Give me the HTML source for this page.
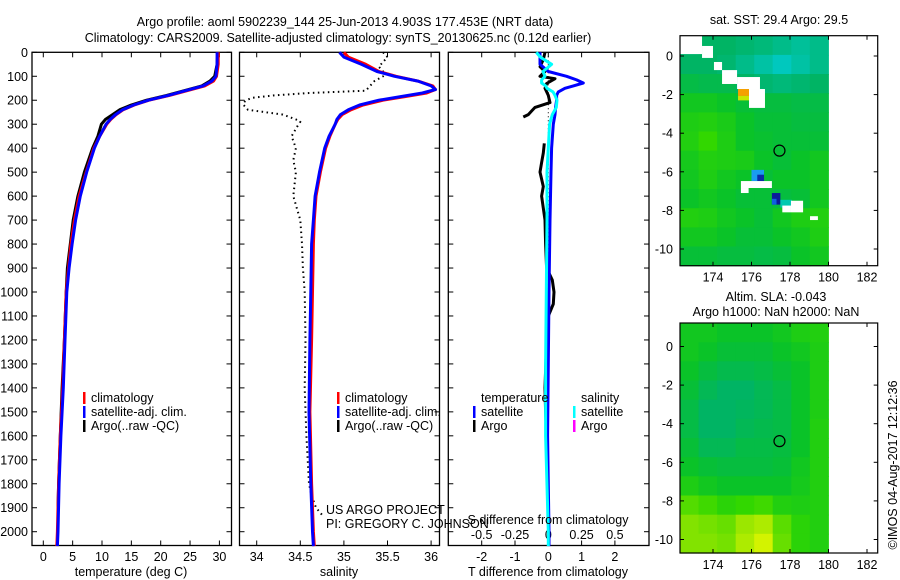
<!DOCTYPE html>
<html><head><meta charset="utf-8">
<style>
html,body{margin:0;padding:0;background:#fff;}
svg{display:block;font-family:"Liberation Sans",sans-serif;}
text{font-size:12.5px;fill:#000;}
</style></head>
<body>
<svg id="fig" width="900" height="580" viewBox="0 0 900 580" xmlns="http://www.w3.org/2000/svg">
<text x="345" y="26" text-anchor="middle">Argo profile: aoml 5902239_144 25-Jun-2013 4.903S 177.453E (NRT data)</text>
<text x="338" y="42" text-anchor="middle">Climatology: CARS2009. Satellite-adjusted climatology: synTS_20130625.nc (0.12d earlier)</text>
<text x="779" y="24" text-anchor="middle">sat. SST: 29.4 Argo: 29.5</text>
<text x="776" y="301" text-anchor="middle">Altim. SLA: -0.043</text>
<text x="776" y="316" text-anchor="middle">Argo h1000: NaN h2000: NaN</text>
<text x="0" y="0" transform="translate(897,465) rotate(-90)" text-anchor="middle">©IMOS 04-Aug-2017 12:12:36</text>
</svg>
<script>
// ---------- data ----------
const depthTicks=[0,100,200,300,400,500,600,700,800,900,1000,1100,1200,1300,1400,1500,1600,1700,1800,1900,2000];
const tempTicks=[0,5,10,15,20,25,30];
const salTicks=[34,34.5,35,35.5,36];
const tdiffTicks=[-2,-1,0,1,2];
const sdiffTicks=[-0.5,-0.25,0,0.25,0.5];
const sdiffLabels=["-0.5","-0.25","0","0.25","0.5"];
// temperature profiles
const tClimDepth=[0,50,100,120,140,160,180,200,220,240,260,280,300,350,400,500,600,700,800,900,1000,1200,1400,1600,1800,2000,2060];
const tClimVal=[29.8,29.8,29.5,29.0,27.5,24.5,21.5,18.0,15.5,13.6,12.4,11.5,10.8,9.6,8.6,7.3,6.1,5.3,4.7,4.3,3.9,3.6,3.3,2.9,2.6,2.4,2.3];
const tSatVal=[29.6,29.6,29.4,28.7,27.2,24.2,21.3,17.9,15.4,13.5,12.3,11.4,10.7,9.6,8.7,7.4,6.3,5.5,4.9,4.4,4.0,3.7,3.4,3.0,2.7,2.5,2.4];
const tArgoDepth=[0,50,100,120,140,160,180,200,220,240,260,280,300,350,400,500,600,700,800,900,1000,1200,1400,1600,1800,1900];
const tArgoVal=[29.7,29.6,29.2,28.4,27.0,24.0,21.0,17.6,15.0,13.0,11.8,10.6,9.9,9.3,8.4,7.0,5.9,5.1,4.6,4.1,3.9,3.6,3.2,2.9,2.6,2.5];
// salinity profiles
const sClimDepth=[0,20,50,80,100,120,140,155,170,185,200,220,240,260,280,300,350,400,500,600,700,800,1000,1200,1500,1800,2000,2060];
const sClimVal=[35.0,35.05,35.25,35.4,35.6,35.85,36.02,36.05,35.95,35.7,35.45,35.22,35.08,34.98,34.93,34.9,34.84,34.79,34.73,34.68,34.66,34.65,34.64,34.63,34.61,34.63,34.65,34.66];
const sSatVal=[34.95,35.0,35.2,35.38,35.58,35.85,36.0,36.05,35.9,35.65,35.4,35.18,35.05,34.96,34.92,34.9,34.83,34.78,34.72,34.67,34.65,34.63,34.62,34.61,34.6,34.62,34.64,34.65];
const sArgoDepth=[0,20,40,60,80,100,120,140,160,170,180,190,200,210,220,240,260,280,290,300,350,400,450,500,600,700,800,900,1000,1200,1400,1600,1800,1850,1900,1930];
const sArgoVal=[35.45,35.5,35.45,35.4,35.45,35.45,35.35,35.3,35.25,34.6,34.2,33.95,33.88,33.85,33.85,33.9,34.3,34.45,34.5,34.48,34.4,34.45,34.42,34.45,34.42,34.5,34.52,34.53,34.55,34.56,34.55,34.57,34.6,34.63,34.68,34.75];
// differences
const dDepth=[0,20,50,80,100,115,128,140,150,165,180,200,230,260,300,400,500,700,1000,1300,1600,2000,2060];
const tDiffSat=[-0.25,-0.25,-0.25,0.0,0.55,0.85,1.05,0.75,0.5,0.3,0.25,0.25,0.22,0.2,0.15,0.1,0.08,0.05,0.02,0.0,-0.02,0.02,0.02];
const sDiffSat=[-0.09,-0.06,0.025,-0.04,-0.025,-0.05,-0.05,-0.02,-0.01,0.035,0.05,0.065,0.06,0.03,0.01,0.0,-0.01,-0.01,-0.015,-0.02,-0.02,0.0,0.0];
const tArgoDiffDepth=[0,30,60,80,100,110,130,150,180,210,230,245,260,270];
const tArgoDiffVal=[-0.1,-0.15,-0.25,-0.1,-0.25,0.2,-0.05,-0.1,0.0,0.05,-0.4,-0.5,-0.6,-0.75];
const tArgoDiff2Depth=[380,420,460,500,560,600,650,700,800,900,950,1000,1050,1100,1200,1400,1500,1600];
const tArgoDiff2Val=[-0.12,-0.15,-0.2,-0.25,-0.15,-0.2,-0.15,-0.1,-0.08,-0.05,0.12,0.17,0.15,0.0,-0.05,-0.1,-0.08,-0.05];
// maps
const mapCols=8, mapRows=12;
const sstGrid=[
[.40,.42,.42,.40,.38,.35,.32,.35],
[.42,.42,.40,.35,.30,.25,.30,.35],
[.46,.45,.45,.42,.40,.38,.40,.42],
[.52,.52,.50,.48,.47,.47,.46,.46],
[.55,.56,.54,.50,.48,.48,.47,.47],
[.56,.60,.55,.50,.49,.48,.48,.48],
[.53,.56,.55,.54,.50,.48,.50,.52],
[.52,.55,.52,.50,.48,.50,.50,.52],
[.50,.52,.50,.48,.48,.47,.48,.52],
[.56,.55,.52,.50,.48,.52,.55,.56],
[.52,.52,.50,.48,.48,.50,.52,.55],
[.48,.48,.47,.47,.46,.47,.50,.52]];
const slaGrid=[
[.52,.52,.50,.50,.50,.52,.55,.56],
[.52,.50,.48,.48,.48,.50,.52,.55],
[.50,.47,.45,.45,.46,.48,.50,.55],
[.48,.44,.42,.42,.44,.46,.50,.55],
[.46,.42,.42,.43,.44,.46,.50,.55],
[.46,.42,.42,.44,.45,.46,.50,.56],
[.48,.44,.44,.46,.46,.47,.50,.56],
[.50,.48,.47,.47,.47,.48,.52,.56],
[.55,.52,.50,.50,.50,.50,.53,.56],
[.65,.62,.58,.60,.62,.56,.55,.56],
[.72,.70,.68,.76,.80,.66,.58,.56],
[.72,.72,.70,.80,.88,.68,.58,.56]];
// land/missing boxes [lon1,lon2,latTop,latBot]
const landBoxes=[[172.29,173.43,1.04,0.1],[173.43,174.0,0.52,-0.1],[174.05,174.47,-0.31,-0.73],[174.47,175.25,-0.73,-1.45],[175.25,176.44,-1.09,-1.71],[175.87,176.7,-1.71,-2.69],[175.45,177.06,-6.48,-6.84],[175.45,175.85,-6.84,-7.1],[178.05,178.68,-7.5,-8.1],[177.6,178.05,-7.75,-8.1],[179.04,179.45,-8.3,-8.5]];
// anomaly patches [lon1,lon2,latTop,latBot,color]
const patchBoxes=[[175.3,175.87,-1.7,-2.07,"#f5a000"],[175.3,175.87,-2.07,-2.3,"#c8e600"],[176.0,176.65,-5.9,-6.48,"#1a9cf0"],[176.3,176.65,-6.15,-6.48,"#0a2ca8"],[177.06,177.5,-7.1,-7.7,"#0a1a9a"],[177.06,177.3,-7.4,-7.7,"#1060e0"],[177.5,178.1,-7.45,-7.85,"#00c8b0"]];
const argoLon=177.453, argoLat=-4.903;
const lonTicks=[174,176,178,180,182];
const latTicks=[0,-2,-4,-6,-8,-10];

// ---------- helpers ----------
const NS="http://www.w3.org/2000/svg";
const svg=document.getElementById('fig');
function mk(tag,attrs,parent){const e=document.createElementNS(NS,tag);for(const k in attrs)e.setAttribute(k,attrs[k]);(parent||svg).appendChild(e);return e;}
function txt(x,y,s,anchor,parent){const t=mk('text',{x:x,y:y,'text-anchor':anchor||'start'},parent);t.textContent=s;return t;}

const yTop=52.3, pxPerM=0.2397, yBot=545.5;
const yD=d=>yTop+d*pxPerM;
const P1={l:32,r:231.5}, P2={l:239.5,r:439.5}, P3={l:448.3,r:649};
const xT=v=>43.3+v*5.87;
const xS=v=>256.7+(v-34)*87.2;
const xTd=v=>548.3+v*33.3;
const xSd=v=>548.3+v*133.2;

function frame(p,name){
  const r=mk('rect',{x:p.l,y:yTop,width:p.r-p.l,height:yBot-yTop,fill:'none',stroke:'#000','stroke-width':1.3});
  
  
  depthTicks.forEach(d=>{
    const y=yD(d);
    mk('line',{x1:p.l,x2:p.l+5,y1:y,y2:y,stroke:'#000'});
    mk('line',{x1:p.r-5,x2:p.r,y1:y,y2:y,stroke:'#000'});
  });
}
function xticks(ticks,fx,labels,ylab,name){
  ticks.forEach((v,i)=>{
    const x=fx(v);
    mk('line',{x1:x,x2:x,y1:yTop,y2:yTop+5,stroke:'#000'});
    mk('line',{x1:x,x2:x,y1:yBot-5,y2:yBot,stroke:'#000'});
    if(ylab){const t=txt(x,ylab,labels?labels[i]:String(v),'middle');
      
      }
  });
}
function line(depths,vals,fx,color,w,name,dash){
  const pts=depths.map((d,i)=>fx(vals[i]).toFixed(1)+','+yD(d).toFixed(1)).join(' ');
  const a={points:pts,fill:'none',stroke:color,'stroke-width':w,'stroke-linejoin':'round'};
  if(dash)a['stroke-dasharray']=dash;
  const p=mk('polyline',a);
  
  
}
function legendEntry(x,y,color,label,name){
  const g=mk('g',{});
  
  
  if(color)mk('rect',{x:x,y:y-10,width:2.5,height:12,fill:color},g);
  txt(x+8,y,label,'start',g);
}

// ---------- panel 1 temperature ----------
frame(P1,'temperature-panel');
depthTicks.forEach(d=>{const t=txt(28,yD(d)+4.5,String(d),'end');
  
  });
xticks(tempTicks,xT,null,561,'temperature-tick-label');
line(tArgoDepth,tArgoVal,xT,'#000',3,'temperature-argo-line');
line(tClimDepth,tClimVal,xT,'#f00',3,'temperature-climatology-line');
line(tClimDepth,tSatVal,xT,'#00f',3,'temperature-satellite-line');
const t1=txt(131,576,'temperature (deg C)','middle');

legendEntry(83,402,'#f00','climatology','legend-climatology');
legendEntry(83,416,'#00f','satellite-adj. clim.','legend-satellite');
legendEntry(83,430,'#000','Argo(..raw -QC)','legend-argo');

// ---------- panel 2 salinity ----------
frame(P2,'salinity-panel');
xticks(salTicks,xS,null,561,'salinity-tick-label');
line(sArgoDepth,sArgoVal,xS,'#000',2,'salinity-argo-line','1.5 3.5');
line(sClimDepth,sClimVal,xS,'#f00',3,'salinity-climatology-line');
line(sClimDepth,sSatVal,xS,'#00f',3,'salinity-satellite-line');
const t2=txt(339,576,'salinity','middle');

legendEntry(337,402,'#f00','climatology','legend-climatology-2');
legendEntry(337,416,'#00f','satellite-adj. clim.','legend-satellite-2');
legendEntry(337,430,'#000','Argo(..raw -QC)','legend-argo-2');
const pr1=txt(326,514,'US ARGO PROJECT','start');

const pr2=txt(326,528,'PI: GREGORY C. JOHNSON','start');


// ---------- panel 3 differences ----------
frame(P3,'difference-panel');
xticks(tdiffTicks,xTd,null,561,'tdiff-tick-label');
sdiffTicks.forEach((v,i)=>{const t=txt(xSd(v),539,sdiffLabels[i],'middle');
  });
mk('line',{x1:xTd(0),x2:xTd(0),y1:yD(0),y2:yD(2060),stroke:'#000','stroke-dasharray':'1 3'});
line(tArgoDiffDepth,tArgoDiffVal,xTd,'#000',3,'tdiff-argo-line');
line(tArgoDiff2Depth,tArgoDiff2Val,xTd,'#000',3,'tdiff-argo-line-deep');
line(dDepth,tDiffSat,xTd,'#00f',3,'tdiff-satellite-line');
line(dDepth,sDiffSat,xSd,'#0ff',3,'sdiff-satellite-line');
const t3=txt(548,576,'T difference from climatology','middle');

const t4=txt(548,524,'S difference from climatology','middle');

const lt=txt(481,402,'temperature','start');
const ls=txt(581,402,'salinity','start');
legendEntry(473,416,'#00f','satellite','legend-t-satellite');
legendEntry(473,430,'#000','Argo','legend-t-argo');
legendEntry(573,416,'#0ff','satellite','legend-s-satellite');
legendEntry(573,430,'#f0f','Argo','legend-s-argo');

// ---------- maps ----------
function colorOf(v){
  const st=[[0.25,0,200,190],[0.42,0,180,100],[0.5,10,195,40],[0.6,50,215,0],[0.75,150,230,0],[0.9,220,245,0]];
  if(v<=st[0][0])return`rgb(${st[0][1]},${st[0][2]},${st[0][3]})`;
  for(let i=1;i<st.length;i++){if(v<=st[i][0]){const a=st[i-1],b=st[i],f=(v-a[0])/(b[0]-a[0]);
    return`rgb(${Math.round(a[1]+f*(b[1]-a[1]))},${Math.round(a[2]+f*(b[2]-a[2]))},${Math.round(a[3]+f*(b[3]-a[3]))})`;}}
  const l=st[st.length-1];return`rgb(${l[1]},${l[2]},${l[3]})`;
}
function drawMap(grid,y0lat,top,bottom,name,showLand){
  const xL=lon=>713+(lon-174)*19.25;
  const yL=lat=>y0lat-lat*19.3;
  const g=mk('g',{});
  
  
  const lon0=172.29,lon1=179.99,latT=(y0lat-top)/19.3,latB=(y0lat-bottom)/19.3;
  const cw=(lon1-lon0)/mapCols, ch=(latT-latB)/mapRows;
  grid.forEach((row,r)=>row.forEach((v,c)=>{
    const x=xL(lon0+c*cw), y=yL(latT-r*ch);
    const cell=mk('rect',{x:x.toFixed(1),y:y.toFixed(1),width:(cw*19.25+0.6).toFixed(1),height:(ch*19.3+0.6).toFixed(1),fill:colorOf(v)},g);
    
    
  }));
  if(showLand){
    patchBoxes.forEach(b=>{const p=mk('rect',{x:xL(b[0]),y:yL(b[2]),width:xL(b[1])-xL(b[0]),height:yL(b[3])-yL(b[2]),fill:b[4]},g);
      });
    landBoxes.forEach(b=>{const p=mk('rect',{x:xL(b[0]),y:yL(b[2]),width:xL(b[1])-xL(b[0]),height:yL(b[3])-yL(b[2]),fill:'#fff'},g);
      });
  }
  const fr=mk('rect',{x:680,y:top,width:197.7,height:bottom-top,fill:'none',stroke:'#000','stroke-width':1.2},g);
  
  const c=mk('circle',{cx:xL(argoLon),cy:yL(argoLat),r:5.5,fill:'none',stroke:'#000','stroke-width':1.2},g);
  
  lonTicks.forEach(l=>{const x=xL(l);
    mk('line',{x1:x,x2:x,y1:top,y2:top+4,stroke:'#000'},g);
    mk('line',{x1:x,x2:x,y1:bottom-4,y2:bottom,stroke:'#000'},g);
    const t=txt(x,bottom+16,String(l),'middle',g);
    });
  latTicks.forEach(l=>{const y=yL(l);
    mk('line',{x1:680,x2:684,y1:y,y2:y,stroke:'#000'},g);
    mk('line',{x1:873.7,x2:877.7,y1:y,y2:y,stroke:'#000'},g);
    const t=txt(673,y+4.5,String(l),'end',g);
    });
}
drawMap(sstGrid,56,35.7,265.7,'sst-map',true);
drawMap(slaGrid,346.5,323,553,'sla-map',false);
</script>
</body></html>
